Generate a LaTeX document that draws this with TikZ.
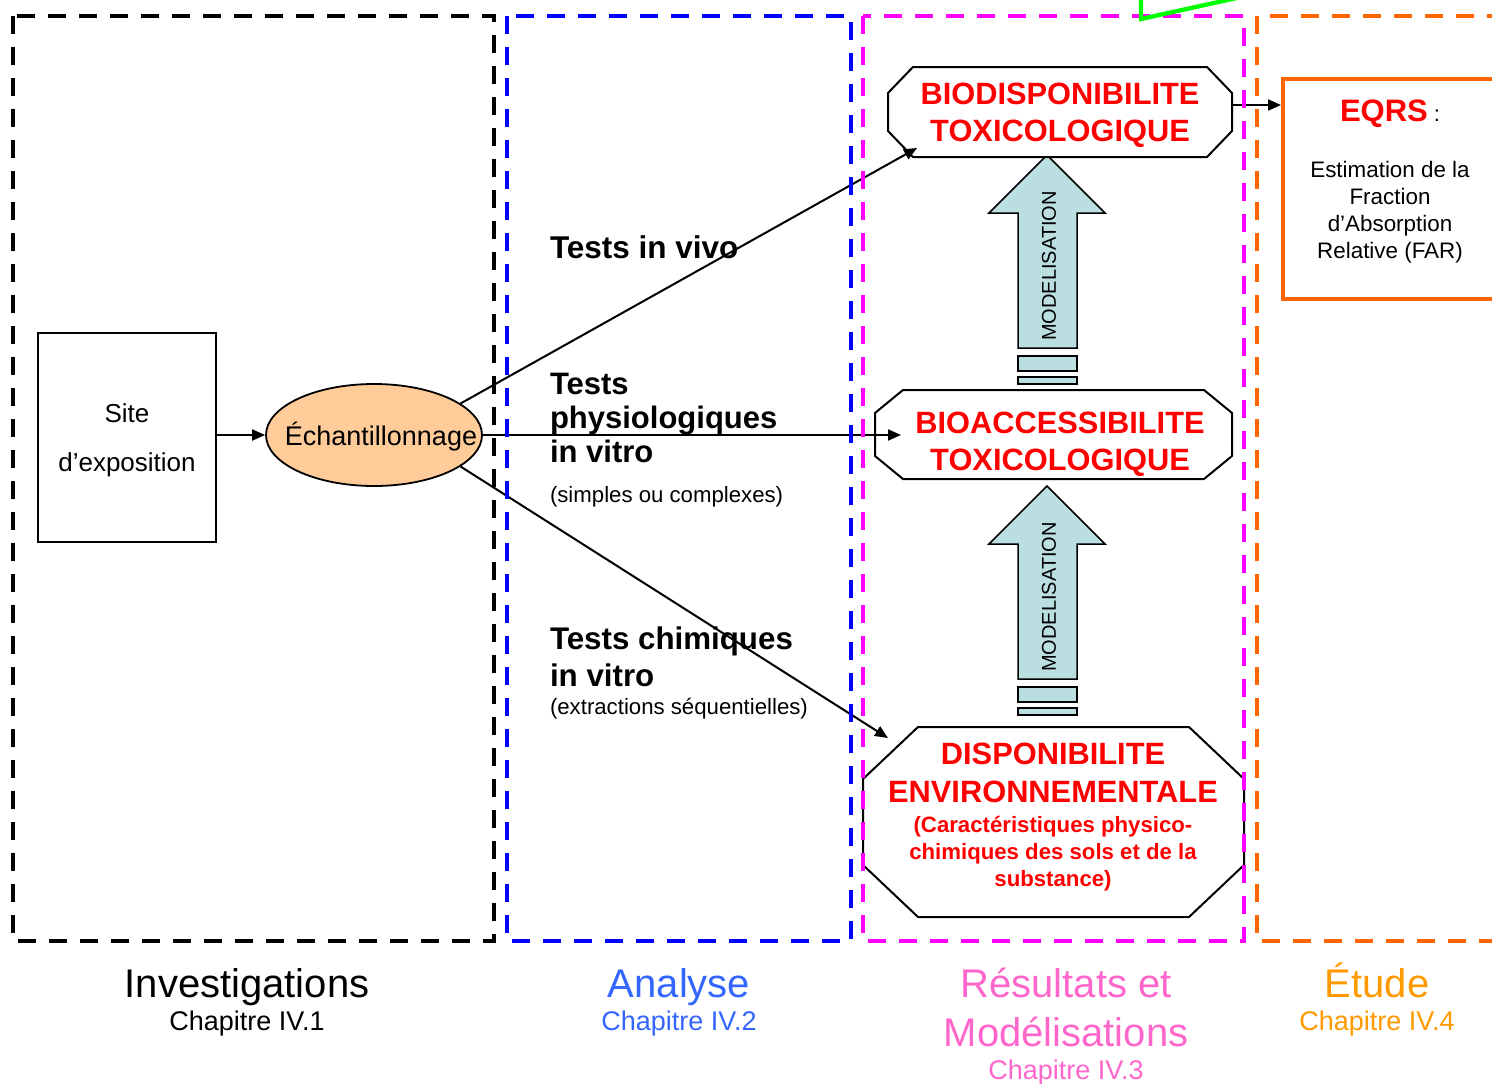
\documentclass[tikz,border=0pt]{standalone}
\usepackage{fontspec}
\setmainfont{Liberation Sans}
\usetikzlibrary{arrows.meta,calc,shapes.geometric}

\definecolor{peach}{HTML}{FFCC99}
\definecolor{modfillcol}{HTML}{BBDEE1}
\definecolor{zoneblue}{HTML}{0000FF}
\definecolor{zonemag}{HTML}{FF00FF}
\definecolor{zoneorange}{HTML}{FF6600}
\definecolor{lblblue}{HTML}{3366FF}
\definecolor{lblpink}{HTML}{FF66CC}
\definecolor{lblorange}{HTML}{FF9900}
\definecolor{brightgreen}{HTML}{00FF00}

\newcommand\setfs[2]{\fontsize{#1}{#2}\selectfont}

% octagon outline drawn round an (invisible) rectangular node
\newcommand\octagonoutline[3]{%
  \draw[octo] ($(#1.north west)+(#2,0)$) -- ($(#1.north east)+(-#2,0)$)
    -- ($(#1.north east)+(0,#3)$) -- ($(#1.south east)+(0,-#3)$)
    -- ($(#1.south east)+(-#2,0)$) -- ($(#1.south west)+(#2,0)$)
    -- ($(#1.south west)+(0,-#3)$) -- ($(#1.north west)+(0,#3)$) -- cycle;}

\begin{document}
\begin{tikzpicture}[x=1pt,y=-1pt,
  plain/.style={inner sep=0pt, outer sep=0pt},
  shapebox/.style={draw=none, inner sep=0pt, outer sep=0pt},
  octo/.style={draw=black, line width=2pt, fill=white, line join=miter},
  zone/.style={line width=4.3pt, dash pattern=on 18pt off 13pt},
  conn/.style={line width=2pt, -{Triangle[length=13pt,width=11pt]}},
  modfill/.style={draw=black, line width=1.5pt, fill=modfillcol},
  redtitle/.style={plain, align=center, text=red, font={\setfs{30.8}{37}\bfseries}},
  modarrow/.pic={
    \draw[modfill] (0,0) -- (58,58) -- (30,58) -- (30,193) -- (-29,193)
      -- (-29,58) -- (-58,58) -- cycle;
    \draw[modfill] (-29,201) rectangle (30,216);
    \draw[modfill] (-29,222) rectangle (30,229);
  }]

\useasboundingbox (0,0) rectangle (1492,1084);
\clip (0,0) rectangle (1492,1084);
\fill[white] (0,0) rectangle (1492,1084);

% ---------- left part: site and sampling ----------
\node[draw, line width=2pt, minimum width=178pt, minimum height=209pt,
      inner sep=0pt, outer sep=0pt] (site) at (127,437.5) {};
\node[plain, align=center, font=\setfs{26}{49}] (sitetxt) at (127,440.5)
      {Site\\d’exposition};
\node[ellipse, draw, line width=1.8pt, fill=peach, minimum width=216pt,
      minimum height=102pt, inner sep=0pt] (ech) at (374,435) {};
\node[plain, font=\setfs{27}{27}] (echtxt) at (381,437) {Échantillonnage};

% ---------- test labels ----------
\node[plain, anchor=base west, font={\setfs{31.5}{34}\bfseries}] (tvivo) at (550,258) {Tests in vivo};
\node[plain, anchor=west, align=left, font={\setfs{31}{34}\bfseries}] (tphys) at (550,418)
      {Tests\\physiologiques\\in vitro};
\node[plain, anchor=base west, font=\setfs{22.2}{27}] (tphysnote) at (550,502) {(simples ou complexes)};
\node[plain, anchor=west, align=left, font={\setfs{31.3}{37}\bfseries}] (tchim) at (550,656.5)
      {Tests chimiques\\in vitro};
\node[plain, anchor=base west, font=\setfs{22.2}{27}] (tchimnote) at (550,714) {(extractions séquentielles)};

% ---------- modelling arrows ----------
\pic at (1047,155) {modarrow};
\pic at (1047,486) {modarrow};
\node[plain, rotate=90, font=\setfs{20}{20}] (mod1) at (1049,266) {MODELISATION};
\node[plain, rotate=90, font=\setfs{20}{20}] (mod2) at (1049,597) {MODELISATION};

% ---------- result octagons ----------
\node[shapebox, minimum width=344pt, minimum height=90pt] (biod) at (1060,112) {};
\node[shapebox, minimum width=357pt, minimum height=89pt] (bioa) at (1053.5,434.5) {};
\node[shapebox, minimum width=381pt, minimum height=190pt] (disp) at (1053.5,822) {};
\octagonoutline{biod}{25}{26}
\octagonoutline{bioa}{28}{23}
\octagonoutline{disp}{55}{52}
\node[redtitle] (biodtxt) at (1060,115) {BIODISPONIBILITE\\TOXICOLOGIQUE};
\node[redtitle] (bioatxt) at (1060,444) {BIOACCESSIBILITE\\TOXICOLOGIQUE};
\node[redtitle, font={\setfs{30.8}{38}\bfseries}] (disptxt) at (1053,773)
      {DISPONIBILITE\\ENVIRONNEMENTALE};
\node[redtitle, font={\setfs{22.2}{27}\bfseries}] (dispnote) at (1053,854)
      {(Caractéristiques physico-\\chimiques des sols et de la\\substance)};

% ---------- EQRS box ----------
\node[draw=zoneorange, line width=4pt, minimum width=216pt, minimum height=220pt,
      inner sep=0pt] (eqrs) at (1391,189) {};
\node[plain, anchor=base] (eqrstitle) at (1390,121)
      {{\setfs{31}{31}\bfseries\color{red}EQRS}\hspace{6pt}{\setfs{22}{22}:}};
\node[plain, align=center, font=\setfs{22.4}{27}] (eqrsbody) at (1390,212)
      {Estimation de la\\Fraction\\d’Absorption\\Relative (FAR)};

% ---------- connectors ----------
\draw[conn] (site.east |- ech.west) -- (ech.west);
\draw[conn] (ech.20) -- ($(biod.south west)+(29,-9)$);
\draw[conn] (ech.east) -- ($(bioa.west)+(26,0.5)$);
\draw[conn] (ech.-20) -- ($(disp.north west)+(25,11)$);
\coordinate (biodout) at ($(biod.east)+(0,-7)$);
\draw[conn] (biodout) -- (eqrs.west |- biodout);

% ---------- dashed zones ----------
\draw[zone, black] (13,16) rectangle (494,941);
\draw[zone, zoneblue] (507,16) rectangle (851,941);
\draw[zone, zonemag] (863,16) rectangle (1244,941);
\draw[zone, zoneorange] (1257,16) rectangle (1510,941);
\draw[brightgreen, line width=4.3pt] (1141,-10) -- (1141,19) -- (1264,-8);

% ---------- zone captions ----------
\node[plain, anchor=base, font=\setfs{40}{49}] (invtitle) at (247,997) {Investigations};
\node[plain, anchor=base, font=\setfs{27}{30}] (invchap) at (247,1030.5) {Chapitre IV.1};
\node[plain, anchor=base, text=lblblue, font=\setfs{40}{49}] (anatitle) at (679,997) {Analyse};
\node[plain, anchor=base, text=lblblue, font=\setfs{27}{30}] (anachap) at (679,1030.5) {Chapitre IV.2};
\node[plain, align=center, text=lblpink, font=\setfs{40}{49}] (restitle) at (1066,1007)
      {Résultats et\\Modélisations};
\node[plain, anchor=base, text=lblpink, font=\setfs{27}{30}] (reschap) at (1066,1079.5) {Chapitre IV.3};
\node[plain, anchor=base, text=lblorange, font=\setfs{40}{49}] (etutitle) at (1377,997) {Étude};
\node[plain, anchor=base, text=lblorange, font=\setfs{27}{30}] (etuchap) at (1377,1030.5) {Chapitre IV.4};

\end{tikzpicture}
\end{document}
